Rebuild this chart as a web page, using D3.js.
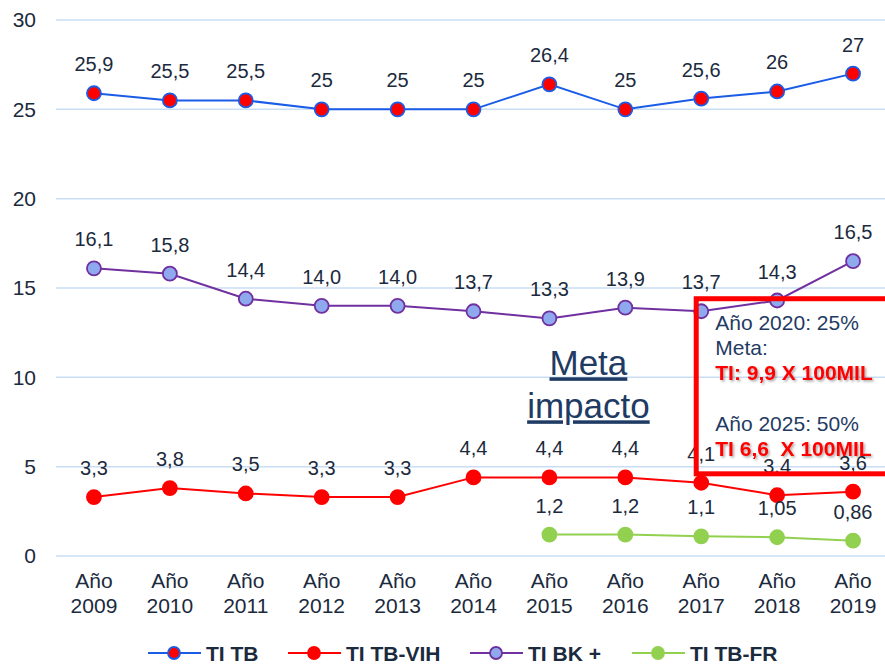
<!DOCTYPE html>
<html>
<head>
<meta charset="utf-8">
<script src="https://cdn.jsdelivr.net/npm/d3@7"></script>
<style>
  body { margin: 0; background: #fff; }
  svg { font-family: "Liberation Sans", Arial, sans-serif; }
</style>
</head>
<body>
<div id="chart"></div>
<script>
const years = ["2009", "2010", "2011", "2012", "2013", "2014", "2015", "2016", "2017", "2018", "2019"];
const tiTB = [25.9, 25.5, 25.5, 25, 25, 25, 26.4, 25, 25.6, 26, 27];
const tiBK = [16.1, 15.8, 14.4, 14.0, 14.0, 13.7, 13.3, 13.9, 13.7, 14.3, 16.5];
const tiVIH = [3.3, 3.8, 3.5, 3.3, 3.3, 4.4, 4.4, 4.4, 4.1, 3.4, 3.6];
const frYears = ["2015", "2016", "2017", "2018", "2019"];
const tiFR = [1.2, 1.2, 1.1, 1.05, 0.86];
const yTicks = [0, 5, 10, 15, 20, 25, 30];
const boxLines = ["Año 2020: 25%", "Meta:", "TI: 9,9 X 100MIL", "", "Año 2025: 50%", "TI 6,6  X 100MIL"];

const width = 885, height = 665;
const margin = { top: 20, right: -6, bottom: 109, left: 56 };

const svg = d3.select("#chart").append("svg")
  .attr("width", width).attr("height", height);

const defs = svg.append("defs");
const shadow = defs.append("filter").attr("id", "shadow")
  .attr("x", "-10%").attr("y", "-20%").attr("width", "130%").attr("height", "160%");
shadow.append("feDropShadow").attr("dx", 1.5).attr("dy", 1.5)
  .attr("stdDeviation", 0.8).attr("flood-color", "#000").attr("flood-opacity", 0.35);

const x = d3.scaleBand().domain(years)
  .range([margin.left, width - margin.right]);
const y = d3.scaleLinear().domain([0, 30])
  .range([height - margin.bottom, margin.top]);
const cx = d => x(d) + x.bandwidth() / 2;

const textColor = "#1b2a3d";

// grid
svg.append("g").selectAll("line").data(yTicks).enter().append("line")
  .attr("x1", margin.left).attr("x2", width)
  .attr("y1", d => y(d)).attr("y2", d => y(d))
  .attr("stroke", "#c9def4").attr("stroke-width", 1.5);

// y axis labels
const yAxis = svg.append("g")
  .attr("transform", `translate(${margin.left - 20},0)`)
  .call(d3.axisLeft(y).tickValues(yTicks).tickSize(0).tickPadding(0));
yAxis.select(".domain").remove();
yAxis.selectAll("text").attr("font-size", 21).attr("fill", textColor)
  .attr("font-family", "Liberation Sans, Arial, sans-serif");

// x axis labels (two lines)
const xAxis = svg.append("g")
  .attr("transform", `translate(0,${y(0)})`)
  .call(d3.axisBottom(x).tickSize(0).tickFormat(""));
xAxis.select(".domain").remove();
xAxis.selectAll(".tick").each(function(d) {
  const t = d3.select(this).append("text")
    .attr("fill", textColor).attr("font-size", 21).attr("text-anchor", "middle");
  t.append("tspan").attr("x", 0).attr("y", 32).text("Año");
  t.append("tspan").attr("x", 0).attr("y", 57).text(d);
});

const comma = v => String(v).replace(".", ",");
const comma1 = v => v.toFixed(1).replace(".", ",");

const series = [
  { name: "TI TB", cats: years, values: tiTB, line: "#1a5ce6", fill: "#ff0000", stroke: "#1a5ce6", fmt: comma },
  { name: "TI TB-VIH", cats: years, values: tiVIH, line: "#ff0000", fill: "#ff0000", stroke: "#ff0000", fmt: comma },
  { name: "TI BK +", cats: years, values: tiBK, line: "#7030a0", fill: "#8fa9ee", stroke: "#7030a0", fmt: comma1 },
  { name: "TI TB-FR", cats: frYears, values: tiFR, line: "#92d050", fill: "#92d050", stroke: "#92d050", fmt: comma }
];

const lineGen = d3.line().x(d => cx(d.cat)).y(d => y(d.v));

series.forEach(s => {
  const pts = s.cats.map((c, i) => ({ cat: c, v: s.values[i] }));
  const g = svg.append("g");
  g.append("path").datum(pts).attr("d", lineGen)
    .attr("fill", "none").attr("stroke", s.line).attr("stroke-width", 2);
  g.selectAll("circle").data(pts).enter().append("circle")
    .attr("cx", d => cx(d.cat)).attr("cy", d => y(d.v)).attr("r", 7)
    .attr("fill", s.fill).attr("stroke", s.stroke).attr("stroke-width", 1.8);
  g.selectAll("text").data(pts).enter().append("text")
    .attr("x", d => cx(d.cat)).attr("y", d => y(d.v) - 22)
    .attr("text-anchor", "middle").attr("font-size", 20).attr("fill", textColor)
    .text(d => s.fmt(d.v));
});

// "Meta impacto" annotation
const meta = svg.append("g").attr("fill", "#1f3b63").attr("font-size", 35)
  .attr("text-anchor", "middle").attr("text-decoration", "underline");
meta.append("text").attr("x", cx("2015") + 39).attr("y", y(10) - 2).text("Meta");
meta.append("text").attr("x", cx("2015") + 39).attr("y", y(10) + 41).text("impacto");

// goal box
const boxX = cx("2017") - 5;
const boxTop = y(14.4);
svg.append("rect")
  .attr("x", boxX).attr("y", boxTop)
  .attr("width", width - boxX + 10).attr("height", y(4.6) - boxTop)
  .attr("fill", "none").attr("stroke", "#ff0000").attr("stroke-width", 5);

const box = svg.append("g").attr("font-size", 21);
boxLines.forEach((t, i) => {
  const red = t.startsWith("TI");
  box.append("text")
    .attr("x", boxX + 19).attr("y", boxTop + 31 + i * 25.2)
    .attr("fill", red ? "#ff0000" : "#1f3b63")
    .attr("font-weight", red ? "bold" : "normal")
    .attr("filter", red ? "url(#shadow)" : null)
    .attr("xml:space", "preserve")
    .style("white-space", "pre")
    .text(t);
});

// legend
const legendX = [148, 288, 470, 632];
const legend = svg.append("g").attr("transform", `translate(0,653)`);
series.forEach((s, i) => {
  const g = legend.append("g").attr("transform", `translate(${legendX[i]},0)`);
  g.append("line").attr("x1", 0).attr("x2", 53).attr("y1", 0).attr("y2", 0)
    .attr("stroke", s.line).attr("stroke-width", 2);
  g.append("circle").attr("cx", 26).attr("cy", 0).attr("r", 6)
    .attr("fill", s.fill).attr("stroke", s.stroke).attr("stroke-width", 1.8);
  g.append("text").attr("x", 58).attr("y", 8)
    .attr("font-size", 21).attr("font-weight", "bold").attr("fill", textColor)
    .text(s.name);
});
</script>
</body>
</html>
